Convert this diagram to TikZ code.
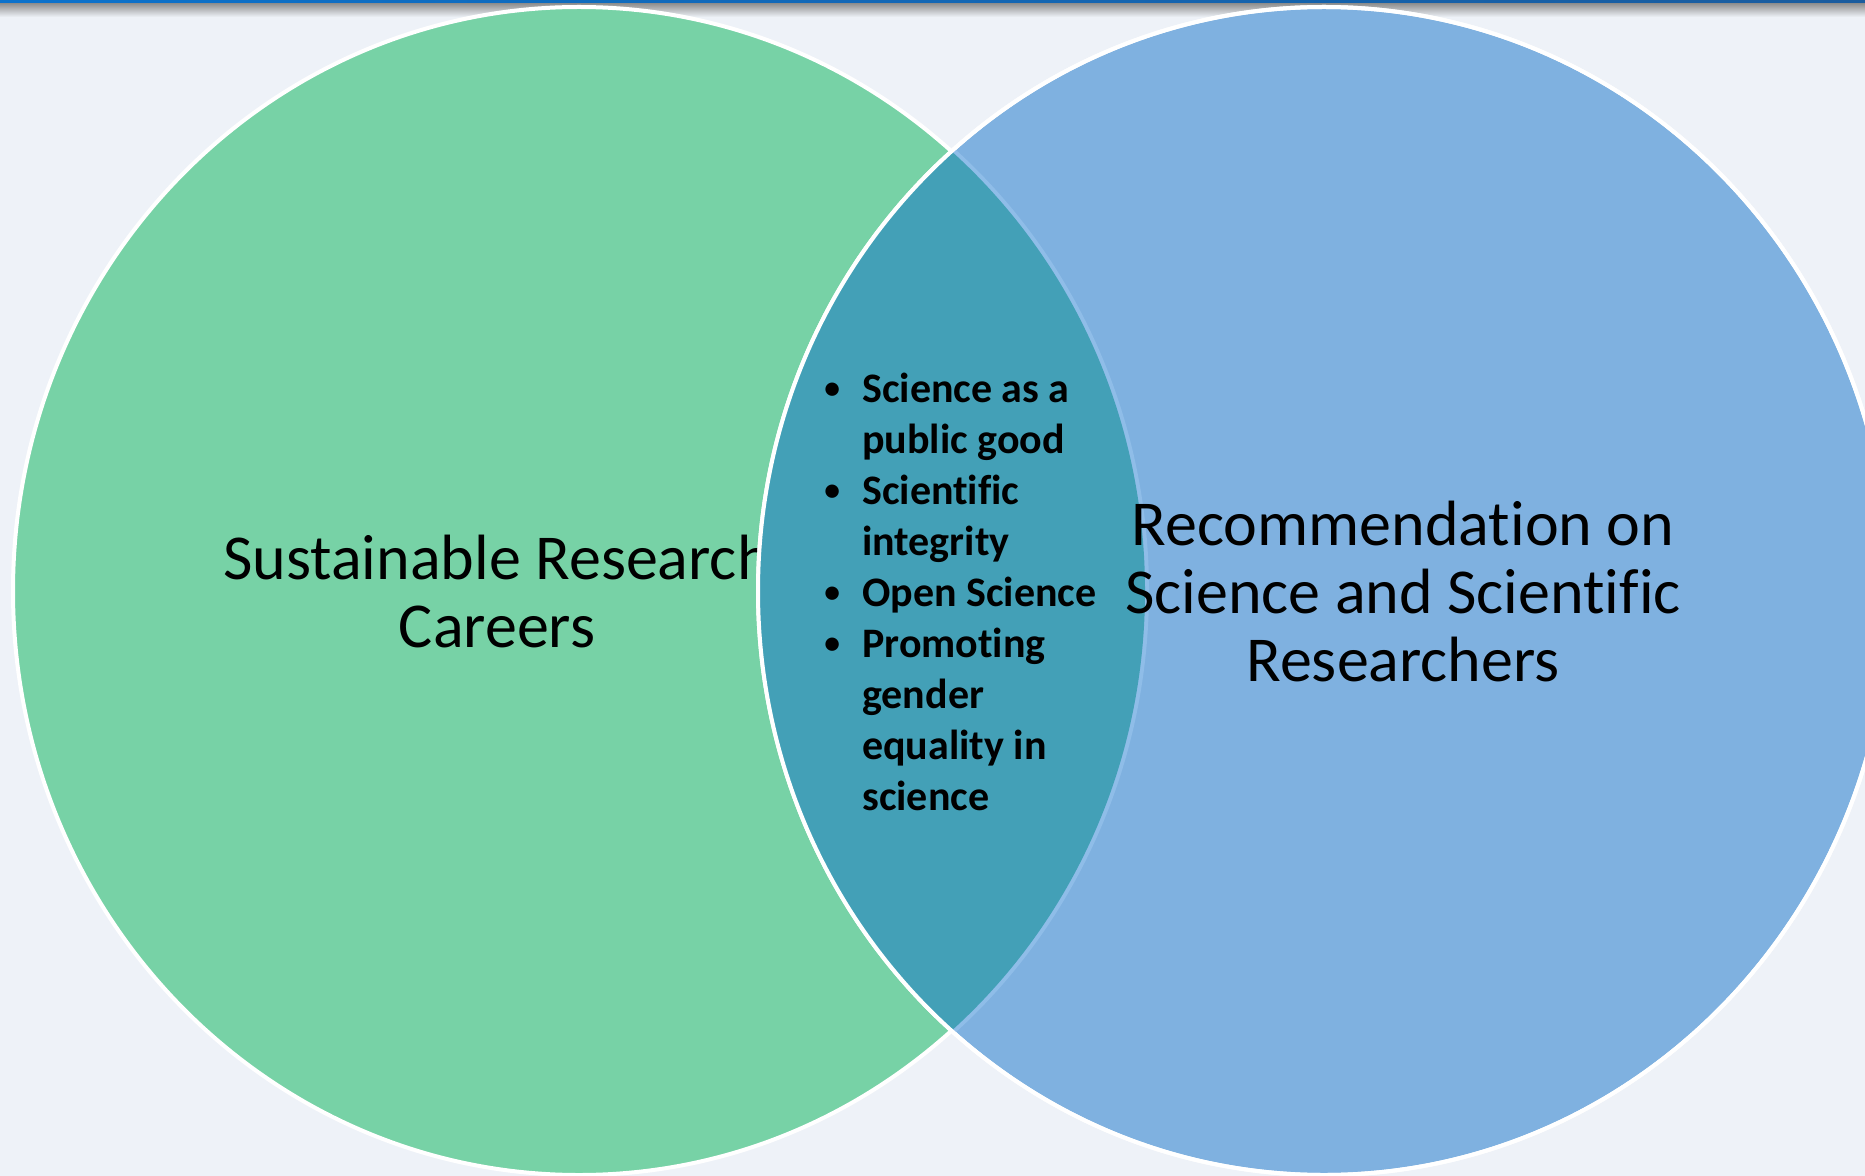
\documentclass[tikz,border=0pt]{standalone}
\usepackage{fontspec}
\setmainfont{Carlito}[Ligatures={NoCommon}]
\usetikzlibrary{positioning}

\definecolor{vennGreen}{HTML}{77D2A6}
\definecolor{vennBlue}{HTML}{7FB1E0}
\definecolor{vennTeal}{HTML}{43A0B7}
\definecolor{edgeBlue}{HTML}{8FBDE8}
\definecolor{slideBg}{HTML}{EEF2F8}
\definecolor{barLeft}{HTML}{0B72CC}
\definecolor{barRight}{HTML}{1A5C9E}

\tikzset{
  vennlabel/.style={align=center, inner sep=0pt, font=\fontsize{48}{51}\selectfont},
  bulletlist/.style={align=left, inner sep=0pt, anchor=west,
    font=\bfseries\fontsize{31.5}{38.25}\selectfont},
  ring/.style={white, line width=3pt},
}

\begin{document}
\begin{tikzpicture}[x=0.75pt,y=-0.75pt]
    \newcommand{\LCX}{579}
    \newcommand{\RCX}{1324}
    \newcommand{\CY}{591}
    \newcommand{\RX}{566}
    \newcommand{\RY}{584}
    \newcommand{\bul}{\llap{\raisebox{2.7pt}{\scalebox{0.75}{\textbullet}}\hspace{16.6pt}}}

    \clip (0,0) rectangle (1865,1176);
    \fill[slideBg] (0,0) rectangle (1865,1176);
    \shade[top color=gray!90, bottom color=slideBg] (0,3) rectangle (1865,17);

    % left set
    \draw[ring, fill=vennGreen] (\LCX,\CY) ellipse [x radius=\RX, y radius=\RY];
    \node[vennlabel] (careers) at (497,592) {Sustainable Research\\Careers};

    % right set and the overlap
    \draw[ring, fill=vennBlue] (\RCX,\CY) ellipse [x radius=\RX, y radius=\RY];
    \begin{scope}
      \clip (\RCX,\CY) ellipse [x radius=\RX, y radius=\RY];
      \draw[edgeBlue, line width=6pt] (\LCX,\CY) ellipse [x radius=\RX, y radius=\RY];
      \fill[vennTeal] (\LCX,\CY) ellipse [x radius=\RX, y radius=\RY];
    \end{scope}
    \draw[ring] (\RCX,\CY) ellipse [x radius=\RX, y radius=\RY];

    \node[vennlabel] (recommend) at (1403,592)
      {Recommendation on\\Science and Scientific\\Researchers};
    \node[bulletlist] (overlap) at (862,592)
      {\bul Science as a\\public good\\\bul Scientific\\integrity\\\bul Open Science\\
       \bul Promoting\\gender\\equality in\\science};

    \shade[left color=barLeft, right color=barRight] (0,0) rectangle (1865,3);
\end{tikzpicture}
\end{document}
